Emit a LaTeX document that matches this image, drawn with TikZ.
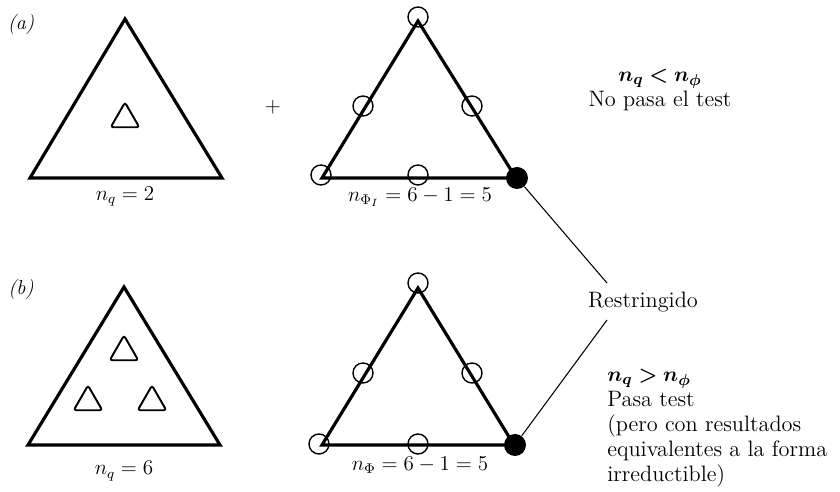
\documentclass[tikz,border=0pt]{standalone}
\usepackage{amsmath,amssymb}
\usepackage{bm}
\usepackage{tikz}
\usetikzlibrary{shapes.geometric}
\tikzset{
  bigtri/.style={line width=1.8pt,line join=miter},
  ptri/.style={draw,regular polygon,regular polygon sides=3,minimum size=6.6mm,
    inner sep=0pt,line width=1.1pt,rounded corners=1.5pt},
  odot/.style={circle,draw,minimum size=4mm,inner sep=0pt,line width=0.8pt},
  fdot/.style={circle,fill=black,minimum size=4.4mm,inner sep=0pt},
  lbl/.style={font=\fontsize{11.5}{13}\selectfont,inner sep=0pt},
  txt/.style={font=\fontsize{12.7}{14.2}\selectfont,inner sep=0pt},
  tag/.style={font=\fontsize{11.5}{13}\selectfont\itshape,inner sep=0pt},
  lead/.style={line width=0.6pt},
}

\begin{document}
\begin{tikzpicture}[x=0.02cm,y=-0.02cm]
\useasboundingbox (0,0) rectangle (840,492);
% (a) two charges against six dots
\node[tag] (ta) at (21,24) {(a)};
\coordinate (a1l) at (30,178); \coordinate (a1t) at (125,19); \coordinate (a1r) at (222,178);
\draw[bigtri] (a1l) -- (a1t) -- (a1r) -- cycle;
\node[ptri] (a1q) at (125,119) {};
\node[lbl] (a1n) at (125,197) {$n_q = 2$};
\node[lbl] (plus) at (273,107) {$+$};
\coordinate (a2l) at (322,178); \coordinate (a2t) at (418,21); \coordinate (a2r) at (516,178);
\draw[bigtri] (a2l) -- (a2t) -- (a2r) -- cycle;
\foreach \x/\y [count=\i] in {418/17,363/106,472/106,321/175,418/175}
  \node[odot] (a2c\i) at (\x,\y) {};
\node[fdot] (a2f) at (517,178) {};
\node[lbl] (a2n) at (420,197) {$n_{\Phi_I} = 6 - 1 = 5$};
\node[txt,align=center] (atest) at (660,90) {$\bm{n_q < n_\phi}$\\No pasa el test};
% (b) six charges against six dots
\node[tag] (tb) at (21,289) {(b)};
\coordinate (b1l) at (28,445); \coordinate (b1t) at (124,287); \coordinate (b1r) at (220,445);
\draw[bigtri] (b1l) -- (b1t) -- (b1r) -- cycle;
\node[ptri] (b1q1) at (124,352) {};
\node[ptri] (b1q2) at (88,402) {};
\node[ptri] (b1q3) at (152,402) {};
\node[lbl] (b1n) at (124,471) {$n_q = 6$};
\coordinate (b2l) at (322,445); \coordinate (b2t) at (418,288); \coordinate (b2r) at (514,445);
\draw[bigtri] (b2l) -- (b2t) -- (b2r) -- cycle;
\foreach \x/\y [count=\i] in {418/283,363/373,472/373,319/444,418/444}
  \node[odot] (b2c\i) at (\x,\y) {};
\node[fdot] (b2f) at (515,445) {};
\node[lbl] (b2n) at (420,465) {$n_\Phi = 6 - 1 = 5$};
\node[txt,align=left,anchor=west] (btest) at (607,428)
  {$\bm{n_q > n_\phi}$\\Pasa test\\(pero con resultados\\equivalentes a la forma\\irreductible)};
% shared restriction
\node[txt] (restr) at (643,302) {Restringido};
\coordinate (ra) at (607,283); \coordinate (rb) at (607,320);
\draw[lead] (a2f) -- (ra);
\draw[lead] (b2f) -- (rb);
\end{tikzpicture}
\end{document}
